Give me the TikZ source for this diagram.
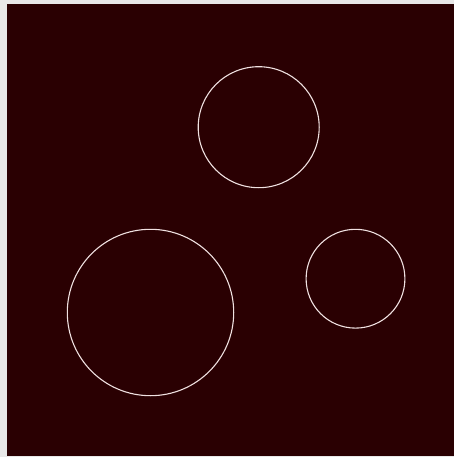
\documentclass[tikz,border=0pt]{standalone}
\definecolor{bgdark}{RGB}{42,0,2}
\definecolor{edge}{RGB}{232,232,232}
\definecolor{ring}{RGB}{240,225,225}
\begin{document}
\begin{tikzpicture}[x=1pt,y=-1pt,
  ringstyle/.style={draw=ring,line width=1.1pt,fill=none}]
\useasboundingbox (0,0) rectangle (454,457);
\fill[edge] (0,0) rectangle (454,457);
\fill[bgdark] (7,4) rectangle (454,455.5);
\draw[ringstyle] (258.7,127.2) circle (60.5);
\draw[ringstyle] (150.5,312.5) circle (83.2);
\draw[ringstyle] (355.5,278.7) circle (49.4);
\end{tikzpicture}
\end{document}
